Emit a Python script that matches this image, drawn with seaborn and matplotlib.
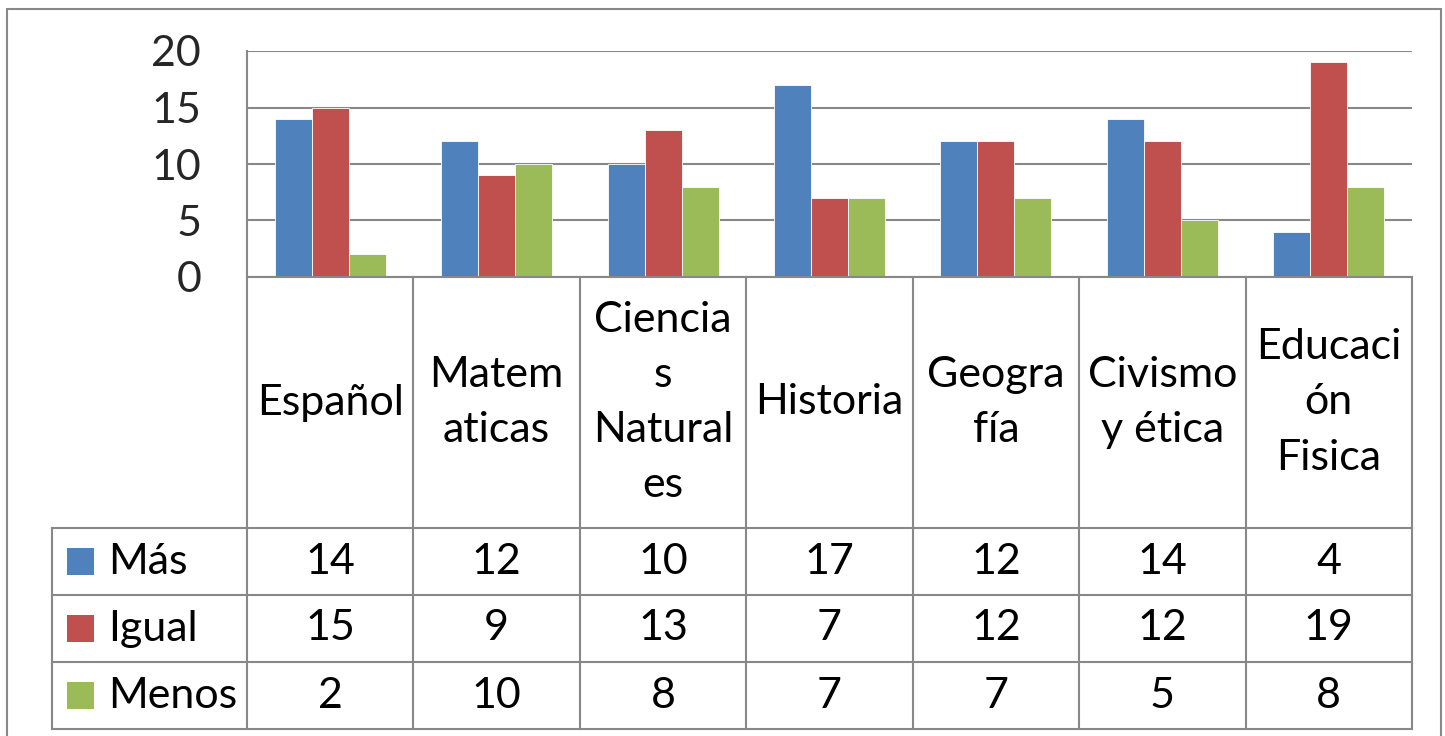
import matplotlib
matplotlib.use("Agg")
import matplotlib.pyplot as plt
from matplotlib.lines import Line2D
from matplotlib.patches import Rectangle
import seaborn as sns
import pandas as pd

# Data
categorias = ["Español", "Matem\naticas", "Ciencia\ns\nNatural\nes", "Historia",
              "Geogra\nfía", "Civismo\ny ética", "Educaci\nón\nFisica"]
series = ["Más", "Igual", "Menos"]
mas = [14, 12, 10, 17, 12, 14, 4]
igual = [15, 9, 13, 7, 12, 12, 19]
menos = [2, 10, 8, 7, 7, 5, 8]
colores = ["#4F81BD", "#C0504D", "#9BBB59"]
yticks = [0, 5, 10, 15, 20]

valores = [mas, igual, menos]
df = pd.DataFrame({
    "Asignatura": [c for _ in series for c in categorias],
    "Serie": [s for s in series for _ in categorias],
    "Valor": [v for vals in valores for v in vals],
})

sns.set_theme(style="white")
plt.rcParams["font.family"] = ["Lato", "DejaVu Sans"]

W, H = 1445, 736
FS = 31
GRAY = "#888888"
LW = 1.5

fig = plt.figure(figsize=(W / 100, H / 100), dpi=100)


def fx(px):
    return px / W


def fy(py):
    return 1 - py / H


# Chart area
ax = fig.add_axes([fx(247), fy(277), (1412 - 247) / W, (277 - 51) / H])
sns.barplot(data=df, x="Asignatura", y="Valor", hue="Serie", order=categorias,
            hue_order=series, palette=colores, saturation=1, width=0.667,
            edgecolor="#ffffff", linewidth=0.6, ax=ax)
ax.legend_.remove()
ax.set_xlim(-0.5, len(categorias) - 0.5)
ax.set_ylim(0, 20)
ax.set_yticks(yticks)
ax.set_yticklabels([str(t) for t in yticks], fontsize=FS)
ax.tick_params(axis="y", length=0, pad=33)
ax.set_xticks([])
ax.set_xlabel("")
ax.set_ylabel("")
ax.yaxis.grid(True, color=GRAY, linewidth=LW)
ax.set_axisbelow(True)
for side in ["top", "right", "bottom"]:
    ax.spines[side].set_visible(False)
ax.spines["left"].set_color(GRAY)
ax.spines["left"].set_linewidth(LW)

# Data table below the chart
col_px = (1412 - 247) / len(categorias)
leg_units = (247 - 52) / col_px
row_px = 67
hdr = (528 - 277) / row_px
total = hdr + len(series)
x0 = -0.5 - leg_units
x1 = len(categorias) - 0.5

axt = fig.add_axes([fx(52), fy(729), (1412 - 52) / W, (729 - 277) / H])
axt.set_xlim(x0, x1)
axt.set_ylim(total, 0)
axt.axis("off")

line_kw = dict(color=GRAY, linewidth=LW, clip_on=False, solid_capstyle="projecting")
# horizontal rules
axt.plot([-0.5, x1], [0, 0], **line_kw)
for r in range(len(series) + 1):
    axt.plot([x0, x1], [hdr + r, hdr + r], **line_kw)
# vertical rules
for i in range(len(categorias) + 1):
    axt.plot([i - 0.5, i - 0.5], [0, total], **line_kw)
axt.plot([x0, x0], [hdr, total], **line_kw)

for i, cat in enumerate(categorias):
    axt.text(i, hdr / 2, cat, ha="center", va="center", fontsize=FS,
             linespacing=1.55, color="black")

sq_w = 27 / col_px
sq_h = 27 / row_px
for r, (nombre, vals, col) in enumerate(zip(series, valores, colores)):
    yc = hdr + r + 0.5
    axt.add_patch(Rectangle((x0 + 15 / col_px, yc - sq_h / 2), sq_w, sq_h,
                            facecolor=col, edgecolor="none", clip_on=False))
    axt.text(x0 + 56 / col_px, yc, nombre, ha="left", va="center",
             fontsize=FS, color="black")
    for i, v in enumerate(vals):
        axt.text(i, yc, str(v), ha="center", va="center", fontsize=FS,
                 color="black")

# Outer frame
frame_kw = dict(color=GRAY, linewidth=LW, transform=fig.transFigure)
fig.add_artist(Line2D([fx(7), fx(7)], [fy(9), 0], **frame_kw))
fig.add_artist(Line2D([fx(7), fx(1441)], [fy(9), fy(9)], **frame_kw))
fig.add_artist(Line2D([fx(1441), fx(1441)], [fy(9), 0], **frame_kw))

fig.savefig("out.png", dpi=100, facecolor="white")
